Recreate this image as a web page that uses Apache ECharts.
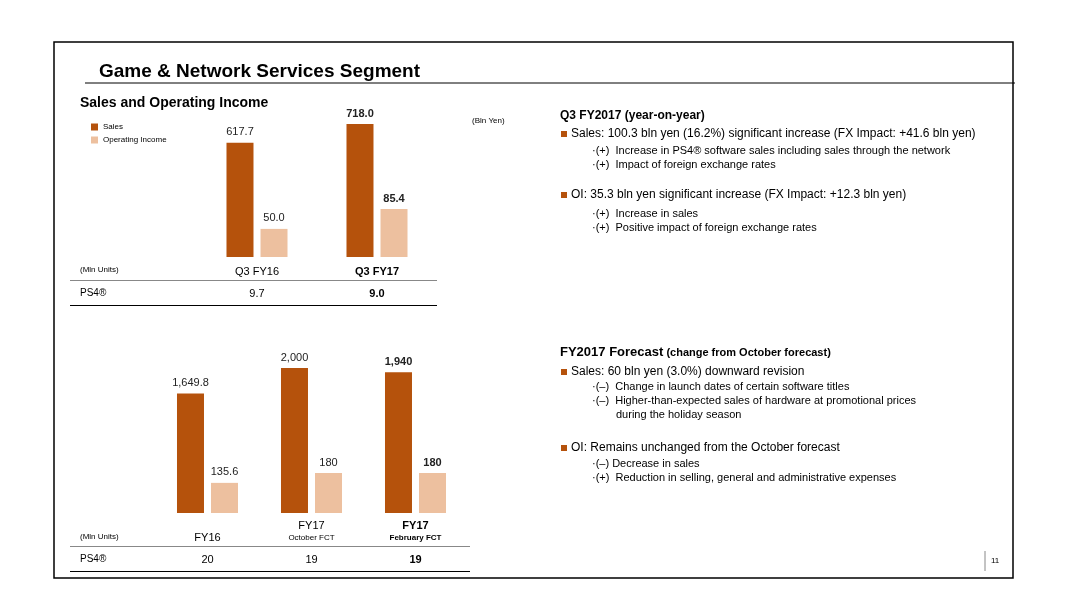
<!DOCTYPE html>
<html><head><meta charset="utf-8">
<script src="https://cdn.jsdelivr.net/npm/echarts@6/dist/echarts.min.js"></script>
<style>html,body{margin:0;background:#fff}#c{width:1066px;height:613px}</style>
</head><body><div id="c"></div>
<script>
// quarterly chart
const qCats = ['Q3 FY16', 'Q3 FY17'];
const qSales = [617.7, 718.0];
const qOI = [50.0, 85.4];
const qPS4 = ['9.7', '9.0'];
// full year chart
const fCats = ['FY16', 'FY17\nOctober FCT', 'FY17\nFebruary FCT'];
const fSales = [1649.8, 2000, 1940];
const fOI = [135.6, 180, 180];
const fSalesLbl = ['1,649.8', '2,000', '1,940'];
const fPS4 = ['20', '19', '19'];

const SALES = '#b5520c', OI = '#edc09f', FONT = 'Liberation Sans, Arial, sans-serif';
const chart = echarts.init(document.getElementById('c'));

function lbl(arr, fmt) {
    return arr.map((v, i) => ({
        value: v,
        label: { fontWeight: i === arr.length - 1 ? 'bold' : 'normal', formatter: fmt ? fmt[i] : v.toFixed(1) }
    }));
}
function text(x, y, s, o) {
    return Object.assign({ type: 'text', left: x, top: y, style: Object.assign({ text: s, font: '11px ' + FONT, fill: '#000' }, o || {}) });
}
function ctext(x, y, s, bold) {
    return { type: 'text', x, y, style: { text: s, font: (bold ? 'bold ' : '') + '11px ' + FONT, fill: '#000', textAlign: 'center', textVerticalAlign: 'middle' } };
}
function line(x1, y1, x2, y2, c, w) {
    return { type: 'line', shape: { x1, y1, x2, y2 }, style: { stroke: c || '#000', lineWidth: w || 1 } };
}
function bullet(x, y) {
    return { type: 'rect', shape: { x, y, width: 6, height: 6 }, style: { fill: SALES } };
}

const g = [
    { type: 'rect', shape: { x: 54, y: 42, width: 959, height: 536 }, style: { fill: 'none', stroke: '#000', lineWidth: 1.5 } },
    text(99, 62, 'Game & Network Services Segment', { font: 'bold 19px ' + FONT }),
    line(85, 83, 1015, 83),
    text(80, 96, 'Sales and Operating Income', { font: 'bold 14px ' + FONT }),
    text(472, 117, '(Bln Yen)', { font: '8px ' + FONT }),
    // table 1
    text(80, 266, '(Mln Units)', { font: '8px ' + FONT }),
    line(70, 280.5, 437, 280.5, '#888'),
    text(80, 288, 'PS4®', { font: '10px ' + FONT }),
    line(70, 305.5, 437, 305.5),
    // table 2
    text(80, 533, '(Mln Units)', { font: '8px ' + FONT }),
    line(70, 546.5, 470, 546.5, '#888'),
    text(80, 554, 'PS4®', { font: '10px ' + FONT }),
    line(70, 571.5, 470, 571.5),
    // page number
    line(985, 551, 985, 571, '#888'),
    text(991, 557, '11', { font: '8px ' + FONT }),
    // right text 1
    text(560, 110, 'Q3 FY2017 (year-on-year)', { font: 'bold 12px ' + FONT }),
    bullet(561, 131), text(571, 128, 'Sales: 100.3 bln yen (16.2%) significant increase (FX Impact: +41.6 bln yen)', { font: '12px ' + FONT }),
    text(592, 145, '·(+)  Increase in PS4® software sales including sales through the network'),
    text(592, 159, '·(+)  Impact of foreign exchange rates'),
    bullet(561, 192), text(571, 189, 'OI: 35.3 bln yen significant increase (FX Impact: +12.3 bln yen)', { font: '12px ' + FONT }),
    text(592, 208, '·(+)  Increase in sales'),
    text(592, 222, '·(+)  Positive impact of foreign exchange rates'),
    // right text 2
    text(560, 346, '{a|FY2017 Forecast} {b|(change from October forecast)}', {
        rich: { a: { font: 'bold 13px ' + FONT, fill: '#000' }, b: { font: 'bold 11px ' + FONT, fill: '#000' } } }),
    bullet(561, 369), text(571, 366, 'Sales: 60 bln yen (3.0%) downward revision', { font: '12px ' + FONT }),
    text(592, 381, '·(–)  Change in launch dates of certain software titles'),
    text(592, 395, '·(–)  Higher-than-expected sales of hardware at promotional prices'),
    text(616, 409, 'during the holiday season'),
    bullet(561, 445), text(571, 442, 'OI: Remains unchanged from the October forecast', { font: '12px ' + FONT }),
    text(592, 458, '·(–) Decrease in sales'),
    text(592, 472, '·(+)  Reduction in selling, general and administrative expenses')
];
qPS4.forEach((v, i) => g.push(ctext(257 + i * 120, 294, v, i === 1)));
fPS4.forEach((v, i) => g.push(ctext(207.5 + i * 104, 560, v, i === 2)));

const valAx = (gi, max) => ({ type: 'value', gridIndex: gi, min: 0, max, show: false });
const bar = { type: 'bar', barWidth: 27, barGap: '26%', label: { show: true, position: 'top', color: '#222', fontSize: 11, fontFamily: FONT }, silent: true };

chart.setOption({
    animation: false,
    textStyle: { fontFamily: FONT },
    legend: {
        data: ['Sales', 'Operating Income'], orient: 'vertical', left: 86, top: 118, itemWidth: 7, itemHeight: 7,
        itemGap: 5, textStyle: { fontSize: 8, color: '#000' }, icon: 'rect'
    },
    grid: [
        { left: 197, width: 240, top: 110, height: 147 },
        { left: 155.5, width: 312, top: 340, height: 173 }
    ],
    xAxis: [
        { type: 'category', gridIndex: 0, data: qCats, axisLine: { show: false }, axisTick: { show: false },
          axisLabel: { margin: 9, color: '#000', fontSize: 11, formatter: (v, i) => i === 1 ? '{b|' + v + '}' : v, rich: { b: { fontWeight: 'bold', fontSize: 11 } } } },
        { type: 'category', gridIndex: 1, data: fCats, axisLine: { show: false }, axisTick: { show: false },
          axisLabel: { interval: 0, hideOverlap: false, margin: 7, color: '#000', fontSize: 11, lineHeight: 12,
              formatter: (v, i) => {
                  if (i === 0) return '\n{m|FY16}';
                  const p = v.split('\n');
                  return (i === 2 ? '{bb|' : '{m|') + p[0] + '}\n{' + (i === 2 ? 'sb' : 's') + '|' + p[1] + '}';
              },
              rich: { m: { fontSize: 11 }, bb: { fontSize: 11, fontWeight: 'bold' }, s: { fontSize: 8 }, sb: { fontSize: 8, fontWeight: 'bold' } } } }
    ],
    yAxis: [valAx(0, 794), valAx(0, 261.5), valAx(1, 2386), valAx(1, 778.5)],
    series: [
        Object.assign({}, bar, { name: 'Sales', xAxisIndex: 0, yAxisIndex: 0, itemStyle: { color: SALES }, data: lbl(qSales) }),
        Object.assign({}, bar, { name: 'Operating Income', xAxisIndex: 0, yAxisIndex: 1, itemStyle: { color: OI }, data: lbl(qOI) }),
        Object.assign({}, bar, { name: 'Sales', xAxisIndex: 1, yAxisIndex: 2, itemStyle: { color: SALES }, data: lbl(fSales, fSalesLbl) }),
        Object.assign({}, bar, { name: 'Operating Income', xAxisIndex: 1, yAxisIndex: 3, itemStyle: { color: OI }, data: lbl(fOI, fOI.map(v => v % 1 ? v.toFixed(1) : String(v))) })
    ],
    graphic: g
});
</script></body></html>
